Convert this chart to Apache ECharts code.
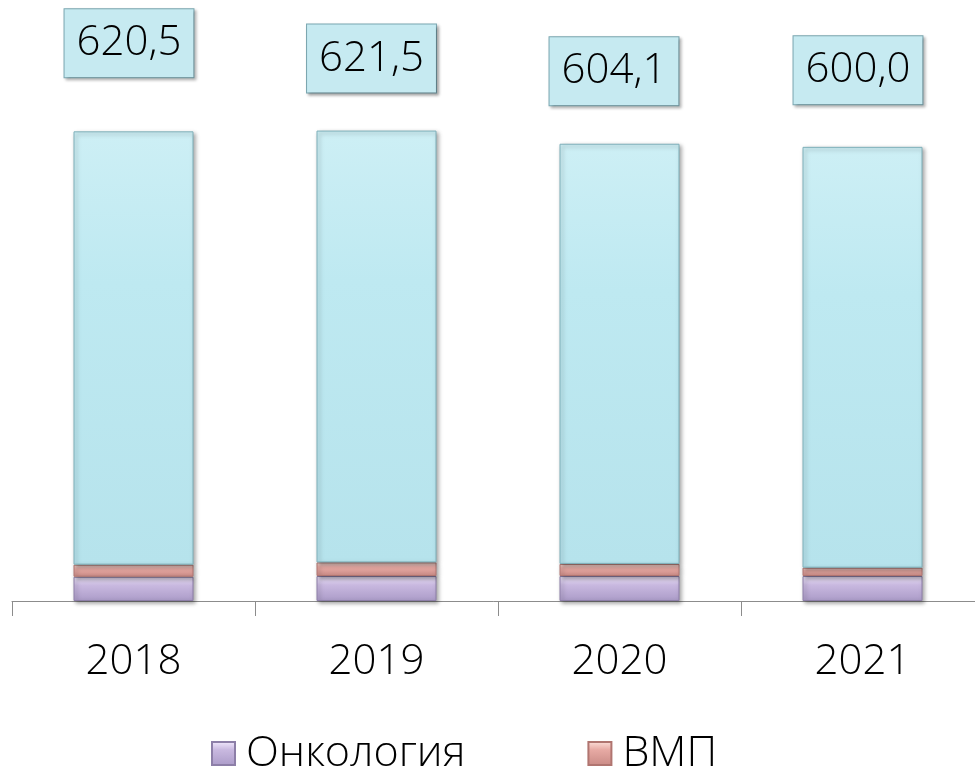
<!DOCTYPE html>
<html>
<head>
<meta charset="utf-8">
<script src="https://cdn.jsdelivr.net/npm/echarts@6/dist/echarts.min.js"></script>
<style>
html,body{margin:0;padding:0;background:#fff;}
#chart{width:975px;height:769px;}
</style>
</head>
<body>
<div id="chart"></div>
<script>
const categories = ['2018', '2019', '2020', '2021'];
const totals = [620.5, 621.5, 604.1, 600.0];
const oncology = [32, 33, 33, 33];
const vmp = [16, 18, 16, 11];
const other = totals.map((t, i) => +(t - oncology[i] - vmp[i]).toFixed(1));

const labelOffsets = [[-4.5, -49], [-5, -33], [-5.5, -33.5], [-4.5, -37.5]];
const FONT = '"Open Sans", "DejaVu Sans", sans-serif';

function vgrad(c1, c2, c3) {
  return {type: 'linear', x: 0, y: 0, x2: 0, y2: 1,
    colorStops: [{offset: 0, color: c1}, {offset: 0.35, color: c2}, {offset: 1, color: c3}]};
}
const shadow = {shadowColor: 'rgba(0,0,0,0.35)', shadowBlur: 4, shadowOffsetX: 2, shadowOffsetY: 2};

const chart = echarts.init(document.getElementById('chart'), null, {renderer: 'canvas'});
chart.setOption({
  animation: false,
  backgroundColor: '#ffffff',
  grid: {left: 12, width: 972, top: 0, bottom: 168, containLabel: false, outerBoundsMode: 'none'},
  legend: {
    data: ['Онкология', 'ВМП'],
    left: 206, top: 727,
    itemWidth: 23, itemHeight: 23, itemGap: 122,
    icon: 'rect',
    textStyle: {fontFamily: FONT, fontSize: 43, fontWeight: 300, color: '#000', padding: [0, 0, 0, 6]}
  },
  xAxis: {
    type: 'category',
    data: categories,
    axisLine: {show: true, lineStyle: {color: '#8c8c8c', width: 1}},
    axisTick: {show: true, length: 15, lineStyle: {color: '#8c8c8c', width: 1}},
    axisLabel: {fontFamily: FONT, fontSize: 42, fontWeight: 300, color: '#000', margin: 40}
  },
  yAxis: {type: 'value', min: 0, max: 794, show: false, splitLine: {show: false}},
  series: [
    {
      name: 'Онкология', type: 'bar', stack: 't', barWidth: 120,
      data: oncology,
      itemStyle: Object.assign({color: vgrad('#f4ecff', '#c9b9e0', '#ab9bc8'), borderColor: '#8d7fa8', borderWidth: 1}, shadow)
    },
    {
      name: 'ВМП', type: 'bar', stack: 't', barWidth: 120,
      data: vmp,
      itemStyle: Object.assign({color: vgrad('#fde2dc', '#e7aaa4', '#c98a85'), borderColor: '#b07570', borderWidth: 1}, shadow)
    },
    {
      name: 'Прочее', type: 'bar', stack: 't', barWidth: 120,
      data: other.map((v, i) => ({
        value: v,
        label: {offset: labelOffsets[i]}
      })),
      itemStyle: Object.assign({color: vgrad('#cdeff5', '#bee9f1', '#b6e3ec'), borderColor: '#7fb0ba', borderWidth: 1}, shadow),
      label: {
        show: true, position: 'top', distance: 5,
        formatter: p => totals[p.dataIndex].toFixed(1).replace('.', ','),
        fontFamily: FONT, fontSize: 42, fontWeight: 300, color: '#000',
        lineHeight: 56,
        padding: [6, 12, 6, 12],
        backgroundColor: '#c6eaf1',
        borderColor: '#7aa7b1', borderWidth: 1,
        shadowColor: 'rgba(0,0,0,0.3)', shadowBlur: 3, shadowOffsetX: 2, shadowOffsetY: 2
      }
    }
  ]
});
</script>
</body>
</html>
